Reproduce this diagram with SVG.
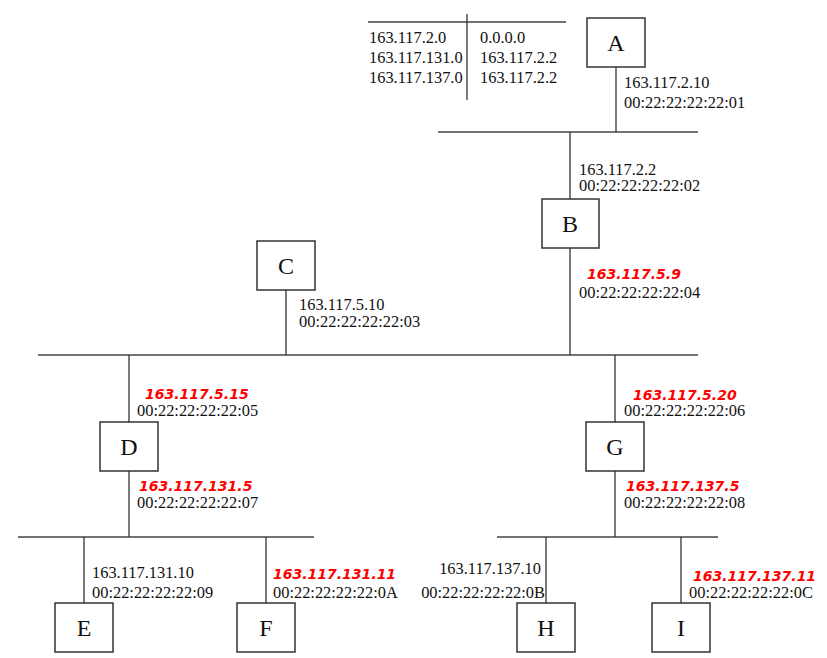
<svg xmlns="http://www.w3.org/2000/svg" width="827" height="658" viewBox="0 0 827 658">
<style>
.box{fill:#fff;stroke:#333;stroke-width:1.5}
.ln{stroke:#333;stroke-width:1.3;fill:none}
.bus{stroke:#444;stroke-width:1.6;fill:none}
.t{font-family:"Liberation Serif",serif;font-size:16.4px;fill:#111}
.r{font-family:"DejaVu Sans",sans-serif;font-size:14px;font-weight:bold;font-style:italic;fill:#f00}
.n{font-family:"Liberation Serif",serif;font-size:24px;fill:#111;text-anchor:middle}
</style>
<rect width="827" height="658" fill="#fff"/>
<g id="routing-table">
<line class="bus" x1="368" y1="22" x2="566" y2="22"/>
<line class="ln" x1="467" y1="14" x2="467" y2="100"/>
<text class="t" x="369" y="43">163.117.2.0</text>
<text class="t" x="369" y="63">163.117.131.0</text>
<text class="t" x="369" y="83">163.117.137.0</text>
<text class="t" x="480" y="43">0.0.0.0</text>
<text class="t" x="480" y="63">163.117.2.2</text>
<text class="t" x="480" y="83">163.117.2.2</text>
</g>
<g id="connectors">
<line class="bus" x1="438" y1="132" x2="698" y2="132"/>
<line class="bus" x1="38" y1="355" x2="698" y2="355"/>
<line class="bus" x1="18" y1="537" x2="314" y2="537"/>
<line class="bus" x1="497" y1="537" x2="718" y2="537"/>
<line class="ln" x1="616" y1="67" x2="616" y2="132"/>
<line class="ln" x1="570" y1="132" x2="570" y2="199"/>
<line class="ln" x1="570" y1="248" x2="570" y2="355"/>
<line class="ln" x1="286" y1="290" x2="286" y2="355"/>
<line class="ln" x1="129" y1="355" x2="129" y2="422"/>
<line class="ln" x1="129" y1="471" x2="129" y2="537"/>
<line class="ln" x1="615" y1="355" x2="615" y2="422"/>
<line class="ln" x1="615" y1="471" x2="615" y2="537"/>
<line class="ln" x1="84" y1="537" x2="84" y2="603"/>
<line class="ln" x1="266" y1="537" x2="266" y2="603"/>
<line class="ln" x1="546" y1="537" x2="546" y2="603"/>
<line class="ln" x1="681" y1="537" x2="681" y2="603"/>
</g>
<g id="labels">
<text class="t" x="624" y="88">163.117.2.10</text>
<text class="t" x="624" y="108">00:22:22:22:22:01</text>
<text class="t" x="579" y="175">163.117.2.2</text>
<text class="t" x="579" y="191">00:22:22:22:22:02</text>
<text class="r" x="587" y="279">163.117.5.9</text>
<text class="t" x="579" y="298">00:22:22:22:22:04</text>
<text class="t" x="299" y="310">163.117.5.10</text>
<text class="t" x="299" y="327">00:22:22:22:22:03</text>
<text class="r" x="145" y="399">163.117.5.15</text>
<text class="t" x="137" y="416">00:22:22:22:22:05</text>
<text class="r" x="139" y="491">163.117.131.5</text>
<text class="t" x="137" y="508">00:22:22:22:22:07</text>
<text class="r" x="633" y="400">163.117.5.20</text>
<text class="t" x="624" y="416">00:22:22:22:22:06</text>
<text class="r" x="626" y="491">163.117.137.5</text>
<text class="t" x="624" y="508">00:22:22:22:22:08</text>
<text class="t" x="92" y="578">163.117.131.10</text>
<text class="t" x="92" y="598">00:22:22:22:22:09</text>
<text class="r" x="273" y="579">163.117.131.11</text>
<text class="t" x="273" y="598">00:22:22:22:22:0A</text>
<text class="t" x="541" y="574" text-anchor="end">163.117.137.10</text>
<text class="t" x="545" y="598" text-anchor="end">00:22:22:22:22:0B</text>
<text class="r" x="693" y="581">163.117.137.11</text>
<text class="t" x="689" y="598">00:22:22:22:22:0C</text>
</g>
<g id="node-A"><rect class="box" x="587" y="18" width="58" height="49"/><text class="n" x="616" y="51">A</text></g>
<g id="node-B"><rect class="box" x="542" y="199" width="57" height="49"/><text class="n" x="570" y="232">B</text></g>
<g id="node-C"><rect class="box" x="257" y="241" width="58" height="49"/><text class="n" x="286" y="274">C</text></g>
<g id="node-D"><rect class="box" x="100" y="422" width="58" height="49"/><text class="n" x="129" y="455">D</text></g>
<g id="node-G"><rect class="box" x="586" y="422" width="58" height="49"/><text class="n" x="615" y="455">G</text></g>
<g id="node-E"><rect class="box" x="55" y="603" width="58" height="49"/><text class="n" x="84" y="636">E</text></g>
<g id="node-F"><rect class="box" x="237" y="603" width="58" height="49"/><text class="n" x="266" y="636">F</text></g>
<g id="node-H"><rect class="box" x="517" y="603" width="58" height="49"/><text class="n" x="546" y="636">H</text></g>
<g id="node-I"><rect class="box" x="652" y="603" width="58" height="49"/><text class="n" x="681" y="636">I</text></g>
</svg>
